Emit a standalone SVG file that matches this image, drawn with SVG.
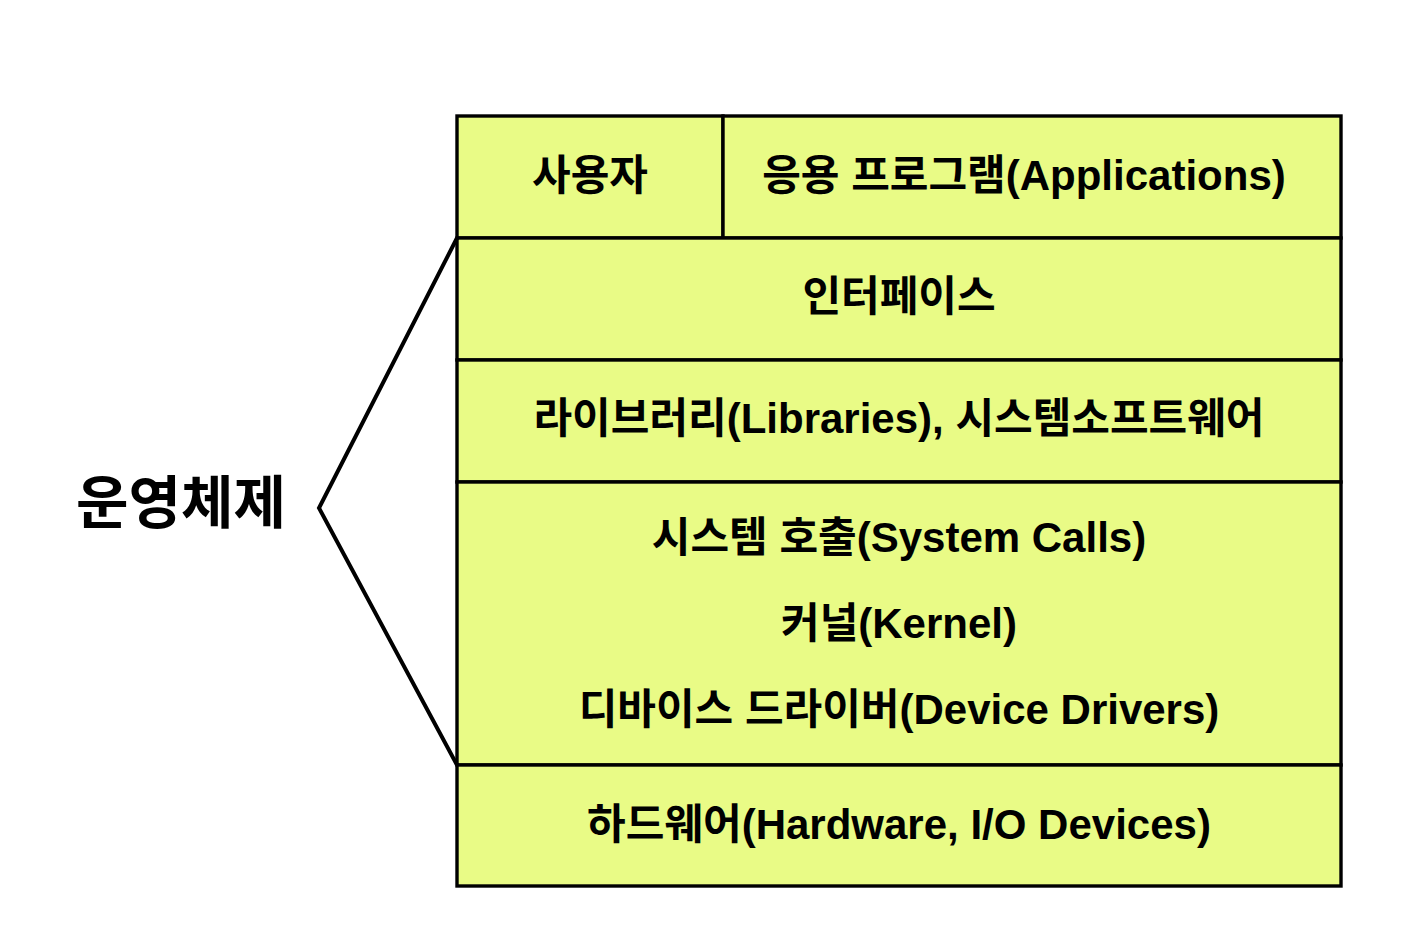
<svg xmlns="http://www.w3.org/2000/svg" width="1414" height="952" viewBox="0 0 1414 952">
<style>
.cell{fill:#e9fb86;stroke:#000;stroke-width:3.4}
.t{font-family:"Liberation Sans","Noto Sans CJK KR",sans-serif;font-weight:bold;font-size:42px;fill:#000;text-anchor:middle;dominant-baseline:central}
.big{font-size:57px}
.ln{fill:none;stroke:#000;stroke-width:4;stroke-linejoin:miter}
</style>
<rect width="1414" height="952" fill="#fff"/>
<g id="user"><rect class="cell" x="457" y="116" width="266" height="122"/><text class="t" x="590" y="175">사용자</text></g>
<g id="apps"><rect class="cell" x="723" y="116" width="618" height="122"/><text class="t" x="1024" y="175">응용 프로그램(Applications)</text></g>
<g id="interface"><rect class="cell" x="457" y="238" width="884" height="122"/><text class="t" x="899" y="296">인터페이스</text></g>
<g id="libraries"><rect class="cell" x="457" y="360" width="884" height="122"/><text class="t" x="899" y="418">라이브러리(Libraries), 시스템소프트웨어</text></g>
<g id="kernel"><rect class="cell" x="457" y="482" width="884" height="283"/>
<text class="t" x="899" y="537">시스템 호출(System Calls)</text>
<text class="t" x="899" y="623">커널(Kernel)</text>
<text class="t" x="899" y="709">디바이스 드라이버(Device Drivers)</text></g>
<g id="hardware"><rect class="cell" x="457" y="765" width="884" height="121"/><text class="t" x="899" y="824">하드웨어(Hardware, I/O Devices)</text></g>
<g id="os"><text class="t big" x="181" y="503">운영체제</text></g>
<g id="connectors"><polyline class="ln" points="457,238 319,508 457,765"/></g>
</svg>
